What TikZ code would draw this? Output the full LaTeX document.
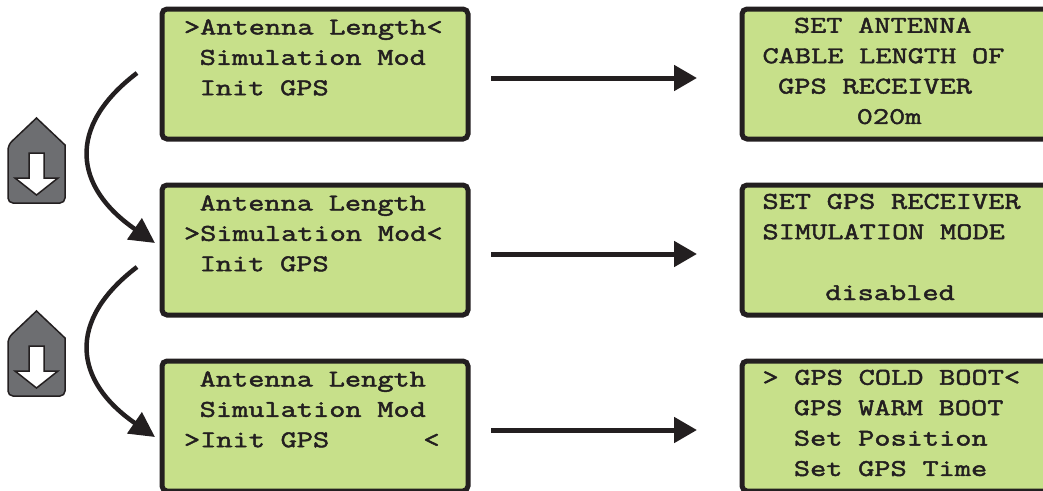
\documentclass[tikz,border=0pt]{standalone}
\usepackage{fontspec}
\usetikzlibrary{arrows.meta,positioning}
\usepackage{xcolor}
\definecolor{LcdGreen}{HTML}{c7e08a}
\definecolor{Ink}{HTML}{231f20}
\definecolor{KeyGray}{HTML}{6d6e71}
\newfontfamily\lcdfont[FakeStretch=1.31,FakeBold=2]{Latin Modern Mono}

\begin{document}
\begin{tikzpicture}[
        x=1pt,y=-1pt,
        %Environment Styles.
        lcdBox/.style={
            rectangle,
            draw=Ink,
            line width=5pt,
            fill=LcdGreen,
            rounded corners=5pt,
            outer sep=0pt,
            minimum height=130pt,
            align=left,
            text=Ink,
            font=\lcdfont\fontsize{24}{30.4}\selectfont,
            execute at begin node={\spaceskip=15.7pt\relax}
        },
        menuBox/.style={lcdBox, minimum width=306pt, inner xsep=22pt, text width=262pt,
            execute at end node={\endgraf\nointerlineskip\vskip 3pt\hbox{}}},
        setBox/.style={lcdBox, minimum width=340pt, inner xsep=20.5pt, text width=299pt,
            execute at end node={\endgraf\nointerlineskip\vskip 6pt\hbox{}}},
        goArrow/.style={-{Triangle[length=23pt,width=25pt]}, Ink, line width=5pt},
        downArrow/.style={-{Triangle[length=25pt,width=25pt]}, Ink, line width=4.5pt},
    ]
    \useasboundingbox (0,0) rectangle (1043,490);

    %\DownKey{key-coordinate}
    \def\DownKey#1{
        \begin{scope}[shift={(#1)}]
            \draw[Ink, line width=1.5pt, fill=KeyGray, rounded corners=5pt]
                (8,145) [sharp corners] -- (36.5,118) -- (65,145) [rounded corners=5pt]
                -- (65,203) -- (8,203) -- cycle;
            \draw[Ink, line width=1.5pt, fill=white]
                (29,153) -- (44,153) -- (44,178) -- (58,178) -- (36.5,195)
                -- (15,178) -- (29,178) -- cycle;
        \end{scope}
    }

    %Menu screens.
    \node[menuBox] at (315,74) (menuA)
        {>Antenna~Length<\\~Simulation~Mod\\~Init~GPS\\~};
    \node[menuBox, below=46pt of menuA] (menuB)
        {~Antenna~Length\\>Simulation~Mod<\\~Init~GPS\\~};
    \node[menuBox, below=46pt of menuB] (menuC)
        {~Antenna~Length\\~Simulation~Mod\\>Init~GPS~~~~~~<\\~};
    %Screens behind each entry.
    \node[setBox, right=274pt of menuA] (setA)
        {~~SET~ANTENNA\\CABLE~LENGTH~OF\\~GPS~RECEIVER\\~~~~~~020m};
    \node[setBox, right=274pt of menuB] (setB)
        {SET~GPS~RECEIVER\\SIMULATION~MODE\\~\\~~~~disabled};
    \node[setBox, right=274pt of menuC] (setC)
        {>~GPS~COLD~BOOT<\\~~GPS~WARM~BOOT\\~~Set~Position\\~~Set~GPS~Time};

    %Draw final details.
    \draw[goArrow, shorten <=23pt, shorten >=45pt] ([yshift=-4pt]menuA.east)--([yshift=-4pt]setA.west);
    \draw[goArrow, shorten <=23pt, shorten >=45pt] ([yshift=-4pt]menuB.east)--([yshift=-4pt]setB.west);
    \draw[goArrow, shorten <=23pt, shorten >=45pt] ([yshift=-4pt]menuC.east)--([yshift=-4pt]setC.west);

    \coordinate (startA) at (137,73);
    \coordinate (endA) at (155,243);
    \coordinate (startB) at (137,267);
    \coordinate (endB) at (155,437);
    \draw[downArrow] (startA) .. controls (66,127) and (74,187) .. (endA);
    \draw[downArrow] (startB) .. controls (66,321) and (74,381) .. (endB);

    \DownKey{0,0};
    \DownKey{0,193};
\end{tikzpicture}
\end{document}
